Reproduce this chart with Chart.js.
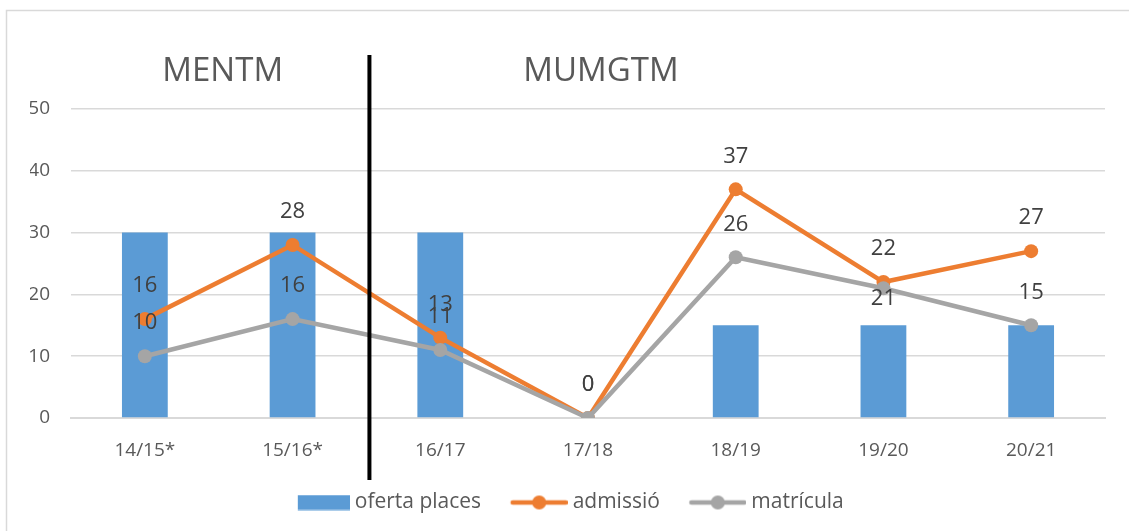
<!DOCTYPE html>
<html>
<head>
<meta charset="utf-8">
<title>Oferta, admissió i matrícula</title>
<script src="https://cdn.jsdelivr.net/npm/chart.js@4/dist/chart.umd.min.js"></script>
<style>
  body { margin: 0; background: #fff; }
  #wrap { position: relative; width: 1129px; height: 531px; }
</style>
</head>
<body>
<div id="wrap"><canvas id="chart" width="1129" height="531"></canvas></div>
<script>
// Data
const courses = ['14/15*', '15/16*', '16/17', '17/18', '18/19', '19/20', '20/21']
const ofertaPlaces = [30, 30, 30, 0, 15, 15, 15]
const admissio = [16, 28, 13, 0, 37, 22, 27]
const matricula = [10, 16, 11, 0, 26, 21, 15]
const yTicks = [0, 10, 20, 30, 40, 50]
const programmes = ['MENTM', 'MUMGTM']

const FONT = "'Open Sans', 'Noto Sans', sans-serif"
const BLUE = '#5B9BD5'
const ORANGE = '#ED7D31'
const GREY = '#A5A5A5'
const TEXT = '#595959'

// legend icons sit on the right side of a 64px wide transparent canvas,
// so they end up close to their label text
const ICON_W = 64

function barIcon(color) {
  const c = document.createElement('canvas')
  c.width = ICON_W
  c.height = 16
  const g = c.getContext('2d')
  g.fillStyle = color
  g.fillRect(ICON_W - 52, 0.5, 52, 15)
  return c
}

function lineIcon(color) {
  const c = document.createElement('canvas')
  c.width = ICON_W
  c.height = 16
  const g = c.getContext('2d')
  const x0 = ICON_W - 57
  g.strokeStyle = color
  g.lineWidth = 4.5
  g.lineCap = 'round'
  g.beginPath()
  g.moveTo(x0 + 2, 8)
  g.lineTo(ICON_W - 2, 8)
  g.stroke()
  g.fillStyle = color
  g.beginPath()
  g.arc(x0 + 28.5, 8, 7, 0, Math.PI * 2)
  g.fill()
  return c
}

const legendIcons = [barIcon(BLUE), lineIcon(ORANGE), lineIcon(GREY)]

// value labels above the line points (matrícula 19/20 sits below, as in the original)
const labelsBelow = { 2: [5] }

const decorations = {
  id: 'decorations',
  beforeDraw(chart) {
    const ctx = chart.ctx
    ctx.save()
    ctx.fillStyle = '#fff'
    ctx.fillRect(0, 0, chart.width, chart.height)
    ctx.strokeStyle = '#D9D9D9'
    ctx.lineWidth = 1.5
    ctx.beginPath()
    ctx.moveTo(6.5, chart.height)
    ctx.lineTo(6.5, 10.5)
    ctx.lineTo(chart.width, 10.5)
    ctx.stroke()
    ctx.restore()
  },
  afterDatasetsDraw(chart) {
    const ctx = chart.ctx
    const x = chart.scales.x
    const area = chart.chartArea
    ctx.save()

    // separator between the two programmes
    const sepX = (x.getPixelForValue(1) + x.getPixelForValue(2)) / 2 + 3
    ctx.strokeStyle = '#000'
    ctx.lineWidth = 4
    ctx.beginPath()
    ctx.moveTo(sepX, area.top - 54)
    ctx.lineTo(sepX, area.bottom + 62)
    ctx.stroke()

    // programme names
    ctx.fillStyle = TEXT
    ctx.font = '33px ' + FONT
    ctx.textAlign = 'center'
    ctx.textBaseline = 'middle'
    ctx.fillText(programmes[0], (x.getPixelForValue(0) + x.getPixelForValue(1)) / 2 + 4, area.top - 37)
    ctx.fillText(programmes[1], x.getPixelForValue(3) + 13, area.top - 37)

    // data labels for the line series
    ctx.font = '22px ' + FONT
    ctx.fillStyle = '#404040'
    chart.data.datasets.forEach((ds, i) => {
      if (ds.type !== 'line') return
      const meta = chart.getDatasetMeta(i)
      meta.data.forEach((pt, j) => {
        const below = (labelsBelow[i] || []).includes(j)
        ctx.fillText(String(ds.data[j]), pt.x, below ? pt.y + 11 : pt.y - 33)
      })
    })
    ctx.restore()
  }
}

const ctx = document.getElementById('chart')

new Chart(ctx, {
  type: 'bar',
  data: {
    labels: courses,
    datasets: [
      {
        label: 'oferta places',
        data: ofertaPlaces,
        backgroundColor: BLUE,
        barPercentage: 0.31,
        categoryPercentage: 1,
        order: 3
      },
      {
        type: 'line',
        label: 'admissió',
        data: admissio,
        borderColor: ORANGE,
        backgroundColor: ORANGE,
        borderWidth: 4.5,
        pointRadius: 7,
        pointBorderWidth: 0,
        pointBackgroundColor: ORANGE,
        pointStyle: 'circle',
        tension: 0,
        order: 2
      },
      {
        type: 'line',
        label: 'matrícula',
        data: matricula,
        borderColor: GREY,
        backgroundColor: GREY,
        borderWidth: 4.5,
        pointRadius: 7,
        pointBorderWidth: 0,
        pointBackgroundColor: GREY,
        pointStyle: 'circle',
        tension: 0,
        order: 1
      }
    ]
  },
  options: {
    responsive: false,
    animation: false,
    layout: {
      padding: { top: 109, right: 24, bottom: 8, left: 30 }
    },
    plugins: {
      legend: {
        position: 'bottom',
        labels: {
          usePointStyle: true,
          pointStyleWidth: 53,
          padding: 28,
          color: TEXT,
          font: { family: FONT, size: 21 },
          sort: (a, b) => a.datasetIndex - b.datasetIndex,
          generateLabels(chart) {
            const items = Chart.defaults.plugins.legend.labels.generateLabels(chart)
            items.forEach(item => {
              item.pointStyle = legendIcons[item.datasetIndex]
            })
            return items
          }
        }
      },
      tooltip: { enabled: false }
    },
    scales: {
      x: {
        grid: { display: false, drawTicks: false },
        border: { color: '#D9D9D9', width: 2 },
        ticks: {
          color: TEXT,
          padding: 21,
          font: { family: FONT, size: 19 }
        },
        afterFit(scale) {
          scale.height = 46
        }
      },
      y: {
        min: 0,
        max: 50,
        afterBuildTicks(scale) {
          scale.ticks = yTicks.map(v => ({ value: v }))
        },
        grid: {
          color: '#D9D9D9',
          lineWidth: 1.5,
          drawTicks: false
        },
        border: { display: false },
        ticks: {
          color: TEXT,
          padding: 21,
          font: { family: FONT, size: 19 }
        },
        afterFit(scale) {
          scale.width = 41
        }
      }
    }
  },
  plugins: [decorations]
})
</script>
</body>
</html>
